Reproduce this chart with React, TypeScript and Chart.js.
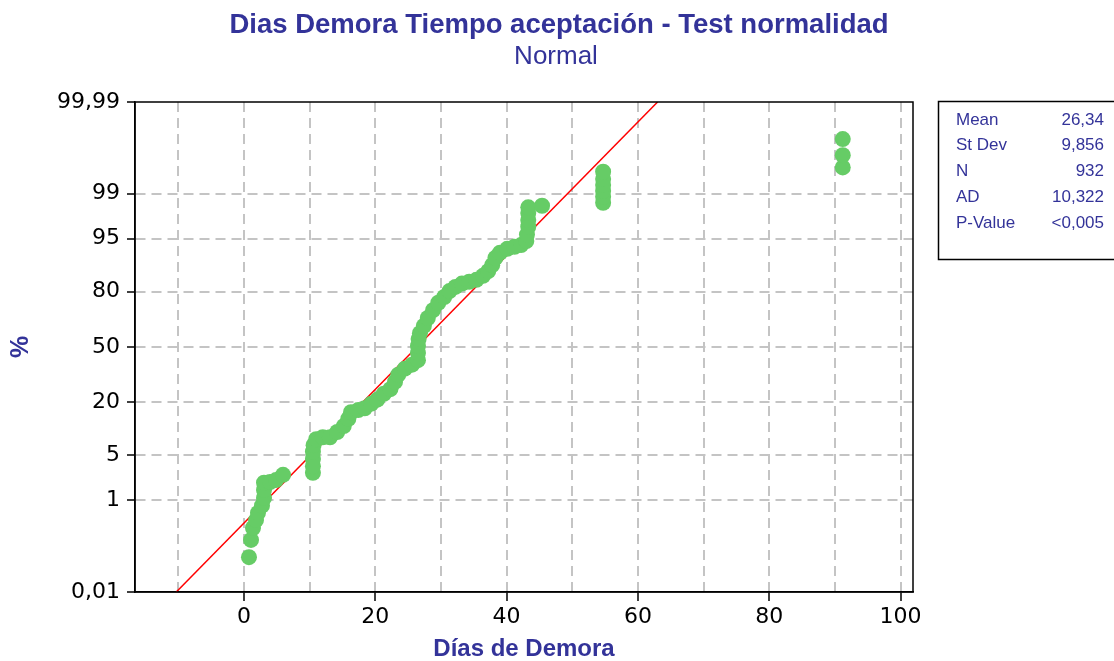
import { useEffect, useRef } from "react";
import { Chart, registerables } from "chart.js";

Chart.register(...registerables);

// ---- data ----
const dias = [
  0.76, 1.07, 1.37, 1.83, 2.13, 2.74, 3.05, 3.05, 3.05, 3.96, 4.88, 5.95,
  10.5, 10.5, 10.5, 10.5, 10.6, 11.0, 12.0, 13.1, 14.2, 15.2, 15.9, 16.3,
  17.4, 18.4, 19.4, 20.3, 21.3, 22.3, 23.0, 23.5, 24.5, 25.6, 26.5, 26.5,
  26.5, 26.6, 26.8, 27.4, 28.0, 28.8, 29.6, 30.5, 31.3, 32.2, 33.2, 34.3,
  35.4, 36.4, 37.2, 37.8, 38.3, 39.0, 40.1, 41.2, 42.2, 43.0, 43.1, 43.3,
  43.3, 43.3, 43.3, 45.4,
  54.7, 54.7, 54.7, 54.7, 54.7, 54.7,
  91.2, 91.2, 91.2,
];
const porcentaje = [
  0.071, 0.17, 0.30, 0.43, 0.59, 0.80, 1.10, 1.50, 1.97, 2.02, 2.17, 2.62,
  2.81, 3.51, 4.46, 5.59, 6.81, 8.08, 8.53, 8.53, 9.85, 11.5, 13.8, 16.1,
  16.9, 17.6, 19.5, 21.2, 23.9, 26.1, 29.8, 33.7, 37.1, 39.4, 42.1, 46.4,
  50.6, 54.8, 58.3, 62.6, 67.0, 71.2, 74.9, 77.6, 80.2, 81.9, 83.2, 83.9,
  84.6, 86.0, 87.5, 89.3, 91.2, 92.4, 93.2, 93.6, 93.9, 94.6, 95.6, 96.6,
  97.3, 97.9, 98.3, 98.4,
  98.57, 98.87, 99.11, 99.30, 99.46, 99.61,
  99.68, 99.82, 99.92,
];
const mean = 26.34;
const stDev = 9.856;
const yTickPct = [0.01, 1, 5, 20, 50, 80, 95, 99, 99.99];
const xTicks = [-10, 0, 10, 20, 30, 40, 50, 60, 70, 80, 90, 100];
const xLabelTicks = [0, 20, 40, 60, 80, 100];
const statLabels = ["Mean", "St Dev", "N", "AD", "P-Value"];
const statValues = ["26,34", "9,856", "932", "10,322", "<0,005"];
const titleText = "Dias Demora Tiempo aceptación - Test normalidad";
const subtitleText = "Normal";
const xTitle = "Días de Demora";
const yTitle = "%";

// inverse standard normal CDF (Acklam)
function probit(p: number): number {
  const a = [-3.969683028665376e1, 2.209460984245205e2, -2.759285104469687e2, 1.38357751867269e2, -3.066479806614716e1, 2.506628277459239];
  const b = [-5.447609879822406e1, 1.615858368580409e2, -1.556989798598866e2, 6.680131188771972e1, -1.328068155288572e1];
  const c = [-7.784894002430293e-3, -3.223964580411365e-1, -2.400758277161838, -2.549732539343734, 4.374664141464968, 2.938163982698783];
  const d = [7.784695709041462e-3, 3.224671290700398e-1, 2.445134137142996, 3.754408661907416];
  const pl = 0.02425;
  if (p < pl) {
    const q = Math.sqrt(-2 * Math.log(p));
    return (((((c[0] * q + c[1]) * q + c[2]) * q + c[3]) * q + c[4]) * q + c[5]) / ((((d[0] * q + d[1]) * q + d[2]) * q + d[3]) * q + 1);
  }
  if (p > 1 - pl) {
    const q = Math.sqrt(-2 * Math.log(1 - p));
    return -(((((c[0] * q + c[1]) * q + c[2]) * q + c[3]) * q + c[4]) * q + c[5]) / ((((d[0] * q + d[1]) * q + d[2]) * q + d[3]) * q + 1);
  }
  const q = p - 0.5;
  const r = q * q;
  return (((((a[0] * r + a[1]) * r + a[2]) * r + a[3]) * r + a[4]) * r + a[5]) * q / (((((b[0] * r + b[1]) * r + b[2]) * r + b[3]) * r + b[4]) * r + 1);
}

const BLUE = "#333399";
const SANS = '"Liberation Sans", Arial, sans-serif';

const decorPlugin = {
  id: "decor",
  afterDraw(chart: any) {
    const { ctx, chartArea: a } = chart;
    ctx.save();
    ctx.strokeStyle = "#000";
    ctx.lineWidth = 1.5;
    ctx.strokeRect(a.left, a.top, a.right - a.left, a.bottom - a.top);

    ctx.fillStyle = BLUE;
    ctx.textAlign = "center";
    ctx.textBaseline = "middle";
    ctx.font = "bold 27.5px " + SANS;
    ctx.fillText(titleText, 559, 25);
    ctx.font = "26px " + SANS;
    ctx.fillText(subtitleText, 556, 57);
    ctx.font = "bold 24px " + SANS;
    ctx.fillText(xTitle, 524, 649);
    ctx.save();
    ctx.translate(21, 347);
    ctx.rotate(-Math.PI / 2);
    ctx.font = "bold 25px " + SANS;
    ctx.fillText(yTitle, 0, 0);
    ctx.restore();

    // stats box
    ctx.strokeStyle = "#000";
    ctx.lineWidth = 1.5;
    ctx.strokeRect(938.5, 101.5, 200, 158);
    ctx.font = "17px " + SANS;
    ctx.fillStyle = BLUE;
    for (let i = 0; i < statLabels.length; i++) {
      const y = 120 + i * 25.8;
      ctx.textAlign = "left";
      ctx.fillText(statLabels[i], 956, y);
      ctx.textAlign = "right";
      ctx.fillText(statValues[i], 1104, y);
    }
    ctx.restore();
  },
};

export default function App() {
  const ref = useRef<HTMLCanvasElement | null>(null);
  useEffect(() => {
    if (!ref.current) return;
    const zMin = probit(yTickPct[0] / 100);
    const zMax = probit(yTickPct[yTickPct.length - 1] / 100);
    const points = dias.map((d, i) => ({ x: d, y: probit(porcentaje[i] / 100) }));
    const fit = [
      { x: mean + stDev * zMin, y: zMin },
      { x: mean + stDev * zMax, y: zMax },
    ];
    const tickFont = { family: '"DejaVu Sans", sans-serif', size: 22 };
    const gridGray = "#c4c4c4";
    const chart = new Chart(ref.current, {
      type: "scatter",
      data: {
        datasets: [
          {
            label: "data",
            data: points,
            pointRadius: 8,
            pointHoverRadius: 8,
            backgroundColor: "#66cc66",
            borderColor: "#66cc66",
            borderWidth: 0,
            order: 1,
          } as any,
          {
            type: "line",
            label: "fit",
            data: fit,
            showLine: true,
            borderColor: "#ff0000",
            borderWidth: 1.5,
            pointRadius: 0,
            fill: false,
            order: 2,
          } as any,
        ],
      },
      options: {
        animation: false,
        responsive: false,
        layout: { padding: { top: 102, right: 201, left: 0, bottom: 0 } },
        plugins: {
          legend: { display: false },
          title: { display: false },
          tooltip: { enabled: false },
        },
        scales: {
          x: {
            type: "linear",
            min: -16.6,
            max: 101.9,
            afterBuildTicks: (axis: any) => {
              axis.ticks = xTicks.map((v) => ({ value: v }));
            },
            afterFit: (scale: any) => {
              scale.height = 69;
            },
            ticks: {
              autoSkip: false,
              maxRotation: 0,
              padding: 3,
              color: "#000",
              font: tickFont,
              callback: (v: any) => (xLabelTicks.includes(Number(v)) ? String(v) : ""),
            },
            grid: {
              color: gridGray,
              lineWidth: 2,
              tickLength: 9,
              tickWidth: 1.5,
              tickColor: (ctx: any) =>
                ctx.tick && xLabelTicks.includes(ctx.tick.value) ? "#000" : "rgba(0,0,0,0)",
            },
            border: { display: true, color: "#000", width: 1.5, dash: [10, 6] },
          },
          y: {
            type: "linear",
            min: zMin,
            max: zMax,
            afterBuildTicks: (axis: any) => {
              axis.ticks = yTickPct.map((p) => ({ value: probit(p / 100) }));
            },
            afterFit: (scale: any) => {
              scale.width = 135;
            },
            ticks: {
              autoSkip: false,
              padding: 7,
              color: "#000",
              font: tickFont,
              callback: (_v: any, i: number) => String(yTickPct[i]).replace(".", ","),
            },
            grid: {
              color: (ctx: any) =>
                ctx.index === 0 || ctx.index === yTickPct.length - 1 ? "rgba(0,0,0,0)" : gridGray,
              lineWidth: 2,
              tickLength: 8,
              tickWidth: 1.5,
              tickColor: "#000",
            },
            border: { display: true, color: "#000", width: 1.5, dash: [10, 6] },
          },
        },
      },
      plugins: [decorPlugin],
    });
    return () => chart.destroy();
  }, []);
  return (
    <div style={{ position: "absolute", left: 0, top: 0, width: 1114, height: 661 }}>
      <canvas ref={ref} width={1114} height={661} style={{ display: "block" }} />
    </div>
  );
}
